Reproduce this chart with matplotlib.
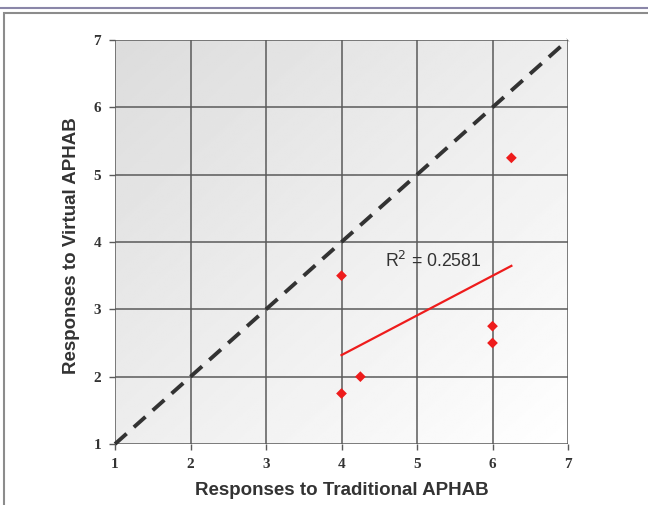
import numpy as np
import matplotlib.pyplot as plt
from matplotlib.lines import Line2D
from matplotlib.patches import Rectangle

traditional = [4, 4, 4.25, 6, 6, 6.25]
virtual = [3.5, 1.75, 2, 2.75, 2.5, 5.25]
ticks = [1, 2, 3, 4, 5, 6, 7]

fig = plt.figure(figsize=(6.48, 5.05), dpi=100)

# page decoration: top rule and frame
fig.add_artist(Line2D([0, 1], [1 - 8 / 505, 1 - 8 / 505], color='#8a86a8', lw=1.5))
fig.add_artist(Rectangle((4 / 648, -0.05), 1.2, 1 - 13 / 505 + 0.05, fill=False,
                         edgecolor='#8c8c8c', lw=1.5))

ax = fig.add_axes([115 / 648, 1 - 444 / 505, 453 / 648, 404 / 505])

# gradient background (light gray top-left to white bottom-right)
gx, gy = np.meshgrid(np.linspace(0, 1, 200), np.linspace(0, 1, 200))
grad = (gx + (1 - gy)) / 2
ax.imshow(grad, extent=[1, 7, 1, 7], origin='lower', cmap='gray',
          vmin=-6.3, vmax=1.0, aspect='auto', zorder=0)

ax.set_xlim(1, 7)
ax.set_ylim(1, 7)
ax.set_xticks(ticks)
ax.set_yticks(ticks)
ax.grid(True, color='#5a5a5a', lw=1.1, zorder=1)
for s in ax.spines.values():
    s.set_visible(False)
ax.tick_params(length=4, width=1, color='#5a5a5a', labelcolor='#333333', pad=6)
for lab in ax.get_xticklabels() + ax.get_yticklabels():
    lab.set_fontfamily('Liberation Serif')
    lab.set_fontweight('bold')
    lab.set_fontsize(11)

# diagonal line of equality
ax.plot([1, 7], [1, 7], ls=(0, (4, 2.5)), color='#333333', lw=2.8, zorder=3,
        clip_on=False)

# regression line
slope, intercept = np.polyfit(traditional, virtual, 1)
xs = np.array([min(traditional), max(traditional)])
ax.plot(xs, slope * xs + intercept, color='#ee1c1c', lw=1.6, zorder=3)
r2 = np.corrcoef(traditional, virtual)[0, 1] ** 2
ax.text(4.58, 3.72, f'R$^2$ = {r2:.4f}', fontsize=12.7, color='#333333',
        family='Liberation Sans', va='center', zorder=4)

ax.scatter(traditional, virtual, marker='D', s=30, color='#ee1c1c', zorder=4,
           edgecolors='none')

ax.set_xlabel('Responses to Traditional APHAB', fontsize=13.5, fontweight='bold',
              family='Liberation Sans', color='#333333')
ax.set_ylabel('Responses to Virtual APHAB', fontsize=13.5, fontweight='bold',
              family='Liberation Sans', color='#333333')
ax.xaxis.set_label_coords(0.5, -0.093)
ax.yaxis.set_label_coords(-0.077, 0.49)

fig.savefig('out.png', dpi=100)
